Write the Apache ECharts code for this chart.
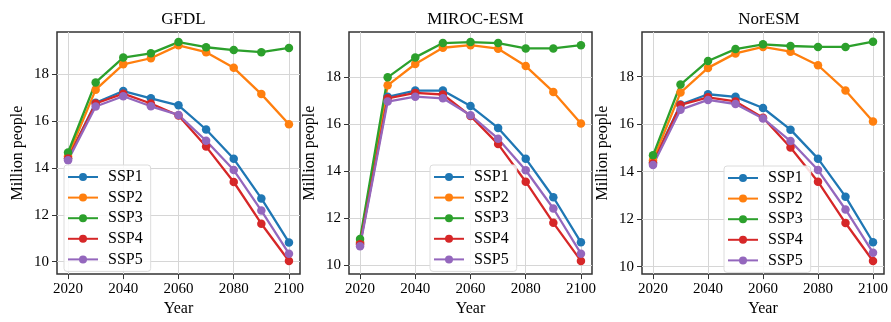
<!DOCTYPE html>
<html>
<head>
<meta charset="utf-8">
<script src="https://cdn.jsdelivr.net/npm/echarts@6/dist/echarts.min.js"></script>
<style>
  html, body { margin: 0; padding: 0; background: #fff; }
  #chart { width: 891px; height: 322px; }
</style>
</head>
<body>
<div id="chart"></div>
<script>
// Projected population (million people) under five SSP scenarios, three climate models
const years = [2020, 2030, 2040, 2050, 2060, 2070, 2080, 2090, 2100];
const scenarios = ['SSP1', 'SSP2', 'SSP3', 'SSP4', 'SSP5'];
const models = ['GFDL', 'MIROC-ESM', 'NorESM'];
const xTicks = [2020, 2040, 2060, 2080, 2100];
const yTicks = [10, 12, 14, 16, 18];

const gfdlSSP1 = [14.40, 16.78, 17.28, 16.97, 16.67, 15.64, 14.39, 12.70, 10.82];
const gfdlSSP2 = [14.50, 17.34, 18.42, 18.68, 19.23, 18.94, 18.27, 17.15, 15.86];
const gfdlSSP3 = [14.66, 17.65, 18.71, 18.89, 19.37, 19.15, 19.03, 18.94, 19.12];
const gfdlSSP4 = [14.40, 16.75, 17.17, 16.75, 16.24, 14.91, 13.40, 11.62, 10.03];
const gfdlSSP5 = [14.33, 16.62, 17.06, 16.63, 16.26, 15.16, 13.91, 12.18, 10.34];

const mirocSSP1 = [10.95, 17.17, 17.44, 17.44, 16.78, 15.85, 14.54, 12.90, 10.98];
const mirocSSP2 = [11.00, 17.66, 18.57, 19.26, 19.37, 19.22, 18.48, 17.38, 16.04];
const mirocSSP3 = [11.12, 18.00, 18.85, 19.46, 19.50, 19.46, 19.23, 19.23, 19.37];
const mirocSSP4 = [10.90, 17.11, 17.34, 17.27, 16.36, 15.16, 13.56, 11.81, 10.19];
const mirocSSP5 = [10.82, 16.97, 17.18, 17.11, 16.39, 15.39, 14.05, 12.42, 10.50];

const noresmSSP1 = [14.40, 16.83, 17.26, 17.15, 16.68, 15.77, 14.55, 12.95, 11.03];
const noresmSSP2 = [14.48, 17.33, 18.37, 18.98, 19.25, 19.05, 18.48, 17.42, 16.11];
const noresmSSP3 = [14.69, 17.67, 18.66, 19.16, 19.36, 19.29, 19.25, 19.25, 19.47];
const noresmSSP4 = [14.35, 16.81, 17.13, 16.96, 16.27, 15.02, 13.58, 11.84, 10.24];
const noresmSSP5 = [14.28, 16.61, 17.02, 16.85, 16.24, 15.29, 14.07, 12.41, 10.59];

const modelSeries = [
  [gfdlSSP1, gfdlSSP2, gfdlSSP3, gfdlSSP4, gfdlSSP5],
  [mirocSSP1, mirocSSP2, mirocSSP3, mirocSSP4, mirocSSP5],
  [noresmSSP1, noresmSSP2, noresmSSP3, noresmSSP4, noresmSSP5]
];

const colors = ['#1f77b4', '#ff7f0e', '#2ca02c', '#d62728', '#9467bd'];
const font = '"Liberation Serif", "DejaVu Serif", serif';

// panel layout
const grids = [
  { left: 57, right: 591, top: 32, bottom: 39 },
  { left: 349, right: 299, top: 32, bottom: 39 },
  { left: 642, right: 5, top: 32, bottom: 39 }
];
const yRanges = [[9.47, 19.8], [9.63, 19.93], [9.69, 19.88]];
const legendPos = [{ left: 64, top: 165 }, { left: 430, top: 165 }, { left: 724, top: 166 }];

const option = {
  backgroundColor: '#fff',
  animation: false,
  color: colors,
  title: models.map((m, i) => ({
    text: m,
    left: grids[i].left + (891 - grids[i].left - grids[i].right) / 2,
    textAlign: 'center',
    top: 6,
    textStyle: { fontFamily: font, fontSize: 17, fontWeight: 'normal', color: '#000' }
  })),
  grid: grids.map(g => Object.assign({
    show: true, borderColor: '#333', borderWidth: 1.5, backgroundColor: '#fff'
  }, g)),
  legend: models.map((m, i) => ({
    data: scenarios,
    orient: 'vertical',
    left: legendPos[i].left,
    top: legendPos[i].top,
    itemWidth: 30,
    itemHeight: 10,
    itemGap: 4.6,
    padding: [4, 8, 4, 3],
    backgroundColor: 'rgba(255,255,255,0.85)',
    borderColor: '#dcdcdc',
    borderWidth: 1,
    borderRadius: 3,
    textStyle: { fontFamily: font, fontSize: 16, color: '#000', padding: [0, 0, 0, 5] }
  })),
  xAxis: models.map((m, i) => ({
    type: 'value',
    gridIndex: i,
    min: 2016,
    max: 2104,
    name: 'Year',
    nameLocation: 'middle',
    nameGap: 21,
    nameTextStyle: { fontFamily: font, fontSize: 16, color: '#000' },
    axisLine: { show: false },
    axisTick: { show: true, length: 5, inside: false, customValues: xTicks, lineStyle: { color: '#333', width: 1 } },
    axisLabel: { customValues: xTicks, formatter: v => String(v), margin: 7, fontFamily: font, fontSize: 15, color: '#000' },
    splitLine: { show: true, lineStyle: { color: '#d6d6d6', width: 1 } }
  })),
  yAxis: models.map((m, i) => ({
    type: 'value',
    gridIndex: i,
    min: yRanges[i][0],
    max: yRanges[i][1],
    name: 'Million people',
    nameLocation: 'middle',
    nameGap: 31,
    nameRotate: 90,
    nameTextStyle: { fontFamily: font, fontSize: 16, color: '#000' },
    axisLine: { show: false },
    axisTick: { show: true, length: 5, inside: false, customValues: yTicks, lineStyle: { color: '#333', width: 1 } },
    axisLabel: { customValues: yTicks, formatter: v => String(v), margin: 8, fontFamily: font, fontSize: 15, color: '#000' },
    splitLine: { show: true, lineStyle: { color: '#d6d6d6', width: 1 } }
  })),
  series: []
};

modelSeries.forEach((set, mi) => {
  set.forEach((vals, si) => {
    option.series.push({
      name: scenarios[si],
      type: 'line',
      xAxisIndex: mi,
      yAxisIndex: mi,
      data: years.map((y, k) => [y, vals[k]]),
      symbol: 'circle',
      symbolSize: 8.5,
      showSymbol: true,
      lineStyle: { width: 2.3, color: colors[si] },
      itemStyle: { color: colors[si] },
      z: 2
    });
  });
});

const chart = echarts.init(document.getElementById('chart'), null, { renderer: 'canvas' });
chart.setOption(option);
</script>
</body>
</html>
